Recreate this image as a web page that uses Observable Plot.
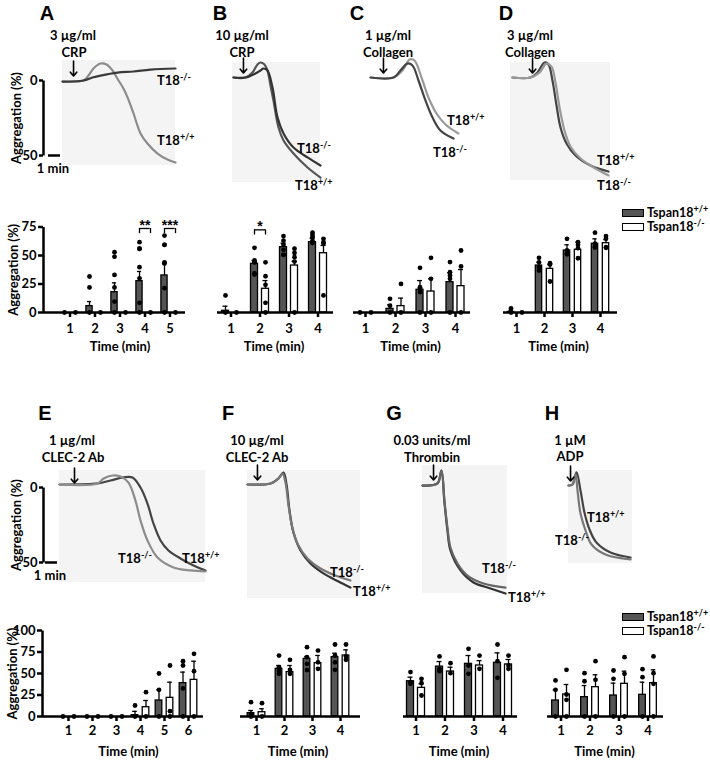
<!DOCTYPE html>
<html><head><meta charset="utf-8">
<script src="https://cdn.jsdelivr.net/npm/d3@7"></script>
<script src="https://cdn.jsdelivr.net/npm/@observablehq/plot@0.6"></script>
<style>
body{margin:0;background:#fff;}
#fig{position:relative;width:710px;height:760px;overflow:hidden;font-family:Lato,"Open Sans",sans-serif;font-weight:bold;color:#000;}
.t{position:absolute;white-space:nowrap;font-size:13px;line-height:1;}
.c{transform:translate(-50%,-50%);}
.l{transform:translate(0,-50%);}
.lg{font-size:12.5px;}
.letter{font-size:20px;font-family:"Liberation Sans",Arial,sans-serif;}
.bg{position:absolute;background:#f4f4f4;}
.p{position:absolute;}
.p svg{overflow:visible;}
.p svg g[aria-label^="x-axis"], .p svg g[aria-label^="y-axis"]{stroke-width:2.5px;}
sup{font-size:9px;line-height:0;vertical-align:baseline;position:relative;top:-5px;}
.box{position:absolute;width:20px;height:6px;border:1.3px solid #000;}
</style></head>
<body><div id="fig"></div>
<script>
// ---------- Aggregation traces (time in min, aggregation in %) ----------
const trA_wt = {t:[0,1.75,2.17,2.58,3.17,3.67,4.17,4.67,5.08,5.42,5.92,6.5,7.08,7.92,8.75,9.42], a:[0.7,0,-3.3,-8,-11.3,-10.7,-6.7,0,5.3,11.3,22,35.3,42,48.7,52.7,54.7]};
const trA_ko = {t:[0,1.75,2.5,3.17,4.58,5.92,7.33,9.42], a:[0.7,0,-2,-3.3,-5.3,-6,-7.3,-8]};
const trB_wt = {t:[0,1,1.58,2,2.25,2.58,2.83,3.08,3.33,3.75,4.17,5,6.17,7.25], a:[0,0,-3.3,-8.7,-10,-8.7,-4.7,5.3,15.3,33.3,42,50.7,60,66.7]};
const trB_ko = {t:[0,1,1.83,2.25,2.5,2.83,3.25,3.67,4.17,5,6.17,7.25], a:[0,0,-2.7,-4.7,-6,-4.7,6.7,26.7,37.3,46.7,53.3,58.7]};
const trC_wt = {t:[0,1.92,2.67,3.25,3.67,4.25,4.83,5.5,6.25,7.33], a:[0,0,-4.7,-12,-11.3,0,13.3,24,31.3,37.3]};
const trC_ko = {t:[0,1.92,2.5,3.08,3.5,4,4.58,5.17,5.83,6.92], a:[0,0,-4.7,-9.3,-8,2,15.3,26.7,35.3,40.7]};
const trD_wt = {t:[0,1.5,2.08,2.67,3,3.33,3.67,4,4.5,5.25,6.5,8], a:[0,0,-3.3,-10,-8.7,2,18.7,33.3,44,52,58.7,62.7]};
const trD_ko = {t:[0,1.5,2.25,2.83,3.25,3.58,3.92,4.33,4.83,5.67,6.92,8], a:[0,0,-3.3,-9.3,-7.3,3.3,20,35.3,46,54,60.7,65.3]};
const trE_wt = {t:[0,3.17,4.25,5.33,6.08,6.75,7.33,7.83,8.42,9.08,10.08,11.17,12.17], a:[-2,-2.7,-4.7,-6.7,-6.7,0,10.7,24,35.3,42,47.3,52,55.3]};
const trE_ko = {t:[0,3.17,3.67,4.42,5.08,5.75,6.33,6.75,7.33,8.17,9.5,10.92,12.17], a:[-2,-2.7,-6,-8,-7.3,-3.3,8.7,22,35.3,46.7,53.3,55.3,56]};
const trF_wt = {t:[0,1.92,2.58,3,3.25,3.5,3.83,4.42,5.25,6.33,7.58,8.58], a:[0,-0.7,-4,-8,0,17.3,32,44,52.7,59.3,64.7,68.7]};
const trF_ko = {t:[0,1.92,2.58,2.92,3.17,3.42,3.75,4.25,5,6.08,7.33,8.58], a:[0,-0.7,-4,-7.3,-1.3,14,29.3,40.7,49.3,56,60.7,64]};
const trG_wt = {t:[0,1.25,1.58,1.83,2.08,2.33,3.17,4.25,5.67,6.92], a:[0.7,-0.7,-9.3,12,30.7,44,57.3,65.3,69.3,72.7]};
const trG_ko = {t:[0,1.25,1.58,1.83,2.08,2.33,2.92,3.75,5.08,6.92], a:[0.7,-0.7,-9.3,10.7,28.7,42,52.7,60.7,66,68.7]};
const trH_wt = {t:[0,0.33,0.67,1,1.33,1.75,2.33,3.5,5.17], a:[0,-0.7,-8.7,3.3,18,29.3,38,44.7,48]};
const trH_ko = {t:[0,0.33,0.58,0.75,1,1.42,1.92,3.08,5.17], a:[0,-0.7,-7.3,3.3,18.7,30,39.3,46,49.3]};
const additionTimes = {A:0.92, B:0.83, C:1.08, D:1.67, E:1.25, F:0.83, G:0.92, H:0.17};
const scaleBarMin = [-1.17, -0.17];

// ---------- Bar charts: mean, mean+SEM, individual values ----------
const times5 = [1,2,3,4,5];
const times4 = [1,2,3,4];
const times6 = [1,2,3,4,5,6];

const A_wtMean = [0,5.6,17.8,27.5,32.5];
const A_wtErr  = [0,9.6,26,36,42.7];
const A_koMean = [0,0,0,0,0];
const A_koErr  = [0,0,0,0,0];
const A_wtDots = [[0],[31.6,22,0],[52.9,49,33,22,9.6,0],[61.7,55.9,55.9,39.8,30,8.5,0],[67.5,59.4,59.4,44,43,21.3,0]];
const A_koDots = [[0],[0],[0],[0],[0]];
const A_sig = [{t:4, y:73.7, label:"**"},{t:5, y:73.7, label:"***"}];

const B_wtMean = [1.5,42.7,57.3,61.7];
const B_wtErr  = [5.5,45.6,60.8,65.2];
const B_koMean = [0,20.8,41.2,52];
const B_koErr  = [0,28,45,58.8];
const B_wtDots = [[15,0],[56.7,45.6,44,44,34.5,33.3],[67,63,59.4,55,50.6,50.6],[70,68,66,63,61]];
const B_koDots = [[0],[44,31.8,24.3,8.5,0],[55.9,52.3,48.5,44.7,0],[64.6,61.7,60.3,15]];
const B_sig = [{t:2, y:72.5, label:"*"}];

const C_wtMean = [0,3.2,19.9,26.6];
const C_wtErr  = [0,6.7,28,34.8];
const C_koMean = [0,5.6,18.4,23.1];
const C_koErr  = [0,12.6,29.5,37.7];
const C_wtDots = [[0],[12,6,0],[39.2,22.2,21,18,0],[44.2,35.4,32.5,29.5,0]];
const C_koDots = [[0],[25.1,0],[48,29.5,0],[54.4,40.4,0]];

const D_wtMean = [0.5,41.2,54.4,60.3];
const D_wtErr  = [1.5,44.2,59.4,64.6];
const D_koMean = [0,38.3,55,60.8];
const D_koErr  = [0,42,61.7,64];
const D_wtDots = [[3.5,0],[48,44,39.8,36.8],[64.6,54.4,52,51],[70,60.3,58,57]];
const D_koDots = [[0],[43.3,42,27.2],[61.7,59.4,56.4,47.6],[67,64.6,57.3,56.7]];

const E_wtMean = [0,0,0,1.5,18.6,38.8];
const E_wtErr  = [0,0,0,6,31,51.6];
const E_koMean = [0,0,0,10.8,21.7,42.6];
const E_koErr  = [0,0,0,18.6,39.9,64.3];
const E_wtDots = [[0],[0],[0],[12.8,0],[50,31,0],[64.3,59.3,32.6,0]];
const E_koDots = [[0],[0],[0],[28.3,0],[59.3,6.2,0],[72.9,52.7,0]];

const F_wtMean = [3.9,55.4,67,69];
const F_wtErr  = [7,59.3,69.8,73.6];
const F_koMean = [5,51.6,62,70.9];
const F_koErr  = [9,59.3,71,77.5];
const F_wtDots = [[16.6,3,0],[70.9,57.3,53.5,49.6],[80.6,69,61.3,54],[83.7,70.9,63,54.3]];
const F_koDots = [[15.5,0],[65.9,54.3,49.6],[76.7,63,55.4],[83.7,69.8,65.9]];

const G_wtMean = [41,58,61.2,62.4];
const G_wtErr  = [45.7,63.9,70.9,74];
const G_koMean = [33.3,52.3,59.3,60.5];
const G_koErr  = [38,57.3,65,66.3];
const G_wtDots = [[51.6,40,38],[69.8,55.4,52.7],[78.7,59.3,49.6],[83.7,64.3,45]];
const G_koDots = [[43.8,38.8,24.4],[62,50.4],[70.9,55.4],[70.9,59.3,55.4]];

const H_wtMean = [18.6,22.5,24.4,25.2];
const H_wtErr  = [31,36,38.8,39.9];
const H_koMean = [25.6,34.1,38,38.8];
const H_koErr  = [37.2,48.5,52.7,54.3];
const H_wtDots = [[41.9,31,0],[50.4,41,0],[53.5,43.8,0],[55,45.7,0]];
const H_koDots = [[54.3,25.6,19.4,0],[64.3,42.6,0],[69,49.6,0],[69.8,50.4,38,0]];

const yTicksTop = [0,25,50,75];
const yTicksBottom = [0,25,50,75,100];

// ---------- layout helpers ----------
const fig = document.getElementById("fig");
const FONT = "Lato, 'Open Sans', sans-serif";
const baseStyle = {background:"transparent", overflow:"visible", fontFamily:FONT, fontSize:"13px", fontWeight:"bold", color:"black"};
function txt(x, y, content, cls){
  const d = document.createElement("div");
  d.className = "t " + cls; d.style.left = x + "px"; d.style.top = y + "px"; d.innerHTML = content;
  fig.appendChild(d);
}
function bg(l, t, r, b){
  const d = document.createElement("div"); d.className = "bg";
  Object.assign(d.style, {left:l+"px", top:t+"px", width:(r-l)+"px", height:(b-t)+"px"});
  fig.appendChild(d);
}
function place(svg, L, T){
  const d = document.createElement("div"); d.className = "p";
  d.style.left = L + "px"; d.style.top = T + "px"; d.appendChild(svg); fig.appendChild(d);
}
// left side of the plot frame only (axis line)
function leftLine(fw, fh){
  return Plot.frame({fill:"none", stroke:"black", strokeWidth:2.5, strokeDasharray:`0 ${2*fw + fh} ${fh + 2}`});
}

function tracePanel(p){
  const [L,T,W,H] = p.box, [x0,y0] = p.origin;
  const data = [["+/+", p.wt], ["-/-", p.ko]].flatMap(([g,s]) => s.t.map((t,i) => ({g, t, a:s.a[i]})));
  const hasAxis = p.axisAt != null;
  const mL = hasAxis ? p.axisAt - L : 0;
  const marks = [
    Plot.line(data, {x:"t", y:"a", z:"g", stroke:"g", strokeWidth:2.2, curve:"catmull-rom"}),
    Plot.arrow([p.addition], {x1:d=>d, x2:d=>d, y1:-13, y2:-3, stroke:"black", strokeWidth:1.6, headLength:6, headAngle:80})
  ];
  if (hasAxis) marks.push(
    leftLine(W - mL, 75),
    Plot.ruleY([50], {x1:scaleBarMin[0], x2:scaleBarMin[1], strokeWidth:2.5}),
    Plot.text(["1 min"], {x:-0.8, y:50, dy:13, fill:"black"}),
    Plot.text(["Aggregation (%)"], {frameAnchor:"left", rotate:-90, textAnchor:"middle", lineAnchor:"middle", dx:-27, fill:"black"})
  );
  const svg = Plot.plot({
    width:W, height:H,
    marginLeft:mL, marginRight:0,
    marginTop: y0 - T, marginBottom: H - (y0 - T + 75),
    x:{domain:[0,1], range:[x0-L, x0-L+12], axis:null},
    y:{domain:[0,50], range:[y0-T, y0-T+75], axis: hasAxis ? "left" : null, ticks:[0,50], tickSize:4, tickPadding:2, label:null},
    color:{domain:["+/+","-/-"], range:p.colors},
    style: baseStyle,
    marks
  });
  place(svg, L, T);
}

const OFF = 5.5, BAR_W = 7;
function barPanel(p){
  const [L,T,W,H] = p.box;
  const n = p.times.length;
  const step = (p.range[1] - p.range[0]) / n;
  const inset = (step - BAR_W) / 2, capInset = (step - 5) / 2, brInset = (step - 2*OFF) / 2;
  const groups = [
    {mean:p.wtMean, err:p.wtErr, dots:p.wtDots, dx:-OFF, fill:"#555"},
    {mean:p.koMean, err:p.koErr, dots:p.koDots, dx:OFF, fill:"#fff"}
  ];
  const marks = [], dotMarks = [];
  const mL = p.base[0] - L, mR = L + W - p.base[1];
  if (p.yAxis) marks.push(leftLine(W - mL - mR, p.y0 - p.yTop));
  for (const G of groups){
    const rows = p.times.map((t,i) => ({t, m:G.mean[i], e:G.err[i]}));
    const eb = rows.filter(r => r.e > r.m);
    const pts = p.times.flatMap((t,i) => G.dots[i].map(v => ({t, v})));
    marks.push(
      Plot.ruleX(eb, {x:"t", y1:"m", y2:"e", dx:G.dx, stroke:"black", strokeWidth:1.3}),
      Plot.tickY(eb, {x:"t", y:"e", dx:G.dx, insetLeft:capInset, insetRight:capInset, stroke:"black", strokeWidth:1.3}),
      Plot.barY(rows, {x:"t", y:"m", dx:G.dx, insetLeft:inset, insetRight:inset, fill:G.fill, stroke:"black", strokeWidth:1.3})
    );
    dotMarks.push(Plot.dot(pts, {x:"t", y:"v", dx:G.dx, r:2.4, fill:"black", stroke:"none"}));
  }
  marks.push(...dotMarks, Plot.ruleY([0], {stroke:"black", strokeWidth:2.5}));
  if (p.sig) marks.push(
    Plot.tickY(p.sig, {x:"t", y:"y", insetLeft:brInset, insetRight:brInset, stroke:"black", strokeWidth:1.3}),
    Plot.ruleX(p.sig, {x:"t", y1:"y", y2:d => d.y - 4.5, dx:-OFF, stroke:"black", strokeWidth:1.3}),
    Plot.ruleX(p.sig, {x:"t", y1:"y", y2:d => d.y - 4.5, dx:OFF, stroke:"black", strokeWidth:1.3}),
    Plot.text(p.sig, {x:"t", y:"y", text:"label", dy:-3, fontSize:14, fill:"#000", fontFamily:"'Liberation Sans', Arial, sans-serif"})
  );
  const frameCenter = (mL + (W - mR)) / 2, rangeCenter = (p.range[0] + p.range[1]) / 2 - L;
  marks.push(Plot.text(["Time (min)"], {frameAnchor:"bottom", lineAnchor:"middle", dx:rangeCenter - frameCenter, dy:p.timeDy, fill:"black"}));
  if (p.yAxis) marks.push(Plot.text(["Aggregation (%)"], {frameAnchor:"left", rotate:-90, textAnchor:"middle", lineAnchor:"middle", dx:-30, fill:"black"}));
  const svg = Plot.plot({
    width:W, height:H,
    marginLeft:mL, marginRight:mR, marginTop:p.yTop - T, marginBottom:T + H - p.y0,
    x:{type:"band", domain:p.times, range:[p.range[0]-L, p.range[1]-L], padding:0, axis:"bottom", tickSize:5, tickPadding:p.tickPad, label:null},
    y:{domain:[0,p.yMax], axis: p.yAxis ? "left" : null, ticks:p.yTicks, tickSize:5, tickPadding:2, label:null},
    style: baseStyle,
    marks
  });
  place(svg, L, T);
}

// ---------- backgrounds of scanned traces ----------
bg(62,60,175,165); bg(232,62,320,182); bg(510,62,610,180);
bg(59,470,205,582); bg(247,470,360,598); bg(422,465,507,593); bg(568,470,632,563);

// ---------- trace panels ----------
tracePanel({box:[0,55,200,125], origin:[62,80], axisAt:43, wt:trA_wt, ko:trA_ko, addition:additionTimes.A, colors:["#8c8c8c","#3a3a3a"]});
tracePanel({box:[205,55,140,140], origin:[233,77], wt:trB_wt, ko:trB_ko, addition:additionTimes.B, colors:["#555","#333"]});
tracePanel({box:[345,55,145,110], origin:[370,77], wt:trC_wt, ko:trC_ko, addition:additionTimes.C, colors:["#9a9a9a","#444"]});
tracePanel({box:[490,55,135,135], origin:[512,77], wt:trD_wt, ko:trD_ko, addition:additionTimes.D, colors:["#444","#999"]});
tracePanel({box:[0,460,215,135], origin:[59,487], axisAt:43, wt:trE_wt, ko:trE_ko, addition:additionTimes.E, colors:["#444","#8c8c8c"]});
tracePanel({box:[225,460,150,145], origin:[247,484], wt:trF_wt, ko:trF_ko, addition:additionTimes.F, colors:["#333","#777"]});
tracePanel({box:[400,460,130,145], origin:[422,484], wt:trG_wt, ko:trG_ko, addition:additionTimes.G, colors:["#333","#666"]});
tracePanel({box:[540,460,110,110], origin:[568,485], wt:trH_wt, ko:trH_ko, addition:additionTimes.H, colors:["#444","#777"]});

// ---------- bar panels ----------
const topCommon = {y0:312, yTop:226.5, yMax:75, yTicks:yTicksTop, tickPad:6.5, timeDy:34};
const botCommon = {y0:716, yTop:630, yMax:100, yTicks:yTicksBottom, tickPad:4, timeDy:35};
barPanel({...topCommon, box:[0,200,195,160], times:times5, range:[55,184], base:[43,185], yAxis:true,
  wtMean:A_wtMean, wtErr:A_wtErr, koMean:A_koMean, koErr:A_koErr, wtDots:A_wtDots, koDots:A_koDots, sig:A_sig});
barPanel({...topCommon, box:[205,200,140,160], times:times4, range:[215.5,331.5], base:[217,333],
  wtMean:B_wtMean, wtErr:B_wtErr, koMean:B_koMean, koErr:B_koErr, wtDots:B_wtDots, koDots:B_koDots, sig:B_sig});
barPanel({...topCommon, box:[345,200,135,160], times:times4, range:[350,470], base:[353,470],
  wtMean:C_wtMean, wtErr:C_wtErr, koMean:C_koMean, koErr:C_koErr, wtDots:C_wtDots, koDots:C_koDots});
barPanel({...topCommon, box:[490,200,135,160], times:times4, range:[500.7,615.3], base:[503,617],
  wtMean:D_wtMean, wtErr:D_wtErr, koMean:D_koMean, koErr:D_koErr, wtDots:D_wtDots, koDots:D_koDots});
barPanel({...botCommon, box:[0,605,215,155], times:times6, range:[54.8,201], base:[42,203], yAxis:true,
  wtMean:E_wtMean, wtErr:E_wtErr, koMean:E_koMean, koErr:E_koErr, wtDots:E_wtDots, koDots:E_koDots});
barPanel({...botCommon, box:[225,605,145,155], times:times4, range:[240.8,354.2], base:[240,360],
  wtMean:F_wtMean, wtErr:F_wtErr, koMean:F_koMean, koErr:F_koErr, wtDots:F_wtDots, koDots:F_koDots});
barPanel({...botCommon, box:[385,605,145,155], times:times4, range:[400.5,516.5], base:[403,517],
  wtMean:G_wtMean, wtErr:G_wtErr, koMean:G_koMean, koErr:G_koErr, wtDots:G_wtDots, koDots:G_koDots});
barPanel({...botCommon, box:[535,605,135,155], times:times4, range:[545.3,662.7], base:[547,663],
  wtMean:H_wtMean, wtErr:H_wtErr, koMean:H_koMean, koErr:H_koErr, wtDots:H_wtDots, koDots:H_koDots});

// ---------- text ----------
const WT = "T18<sup>+/+</sup>", KO = "T18<sup>-/-</sup>";
[["A",47,13],["B",220,13],["C",357,13],["D",506,13],["E",45,413],["F",228,413],["G",394,413],["H",552,413]]
  .forEach(([s,x,y]) => txt(x, y, s, "c letter"));
[["3 µg/ml",73,35],["CRP",74,52],["10 µg/ml",242,35],["CRP",242,52],["1 µg/ml",388,35],["Collagen",388,52],
 ["3 µg/ml",530,35],["Collagen",530,52],["1 µg/ml",72,440],["CLEC-2 Ab",73,457],["10 µg/ml",257,440],["CLEC-2 Ab",257,457],
 ["0.03 units/ml",432,440],["Thrombin",432,457],["1 µM",570,440],["ADP",570,456]].forEach(([s,x,y]) => txt(x, y, s, "c"));
[[KO,157,80],[WT,157,140],[KO,297,148],[WT,295,185],[WT,447,120],[KO,433,152],[WT,597,160],[KO,597,185],
 [KO,118,558],[WT,182,558],[KO,330,572],[WT,353,591],[KO,482,568],[WT,508,597],[WT,587,517],[KO,555,540]]
  .forEach(([s,x,y]) => txt(x, y, s, "l"));

// ---------- legends ----------
function legend(top){
  const b1 = document.createElement("div"); b1.className = "box";
  Object.assign(b1.style, {left:"622px", top:top+"px", background:"#555"}); fig.appendChild(b1);
  const b2 = document.createElement("div"); b2.className = "box";
  Object.assign(b2.style, {left:"622px", top:(top+14)+"px", background:"#fff"}); fig.appendChild(b2);
  txt(647, top+3.5, "Tspan18<sup>+/+</sup>", "l lg");
  txt(647, top+18, "Tspan18<sup>-/-</sup>", "l lg");
}
legend(209);
legend(613);
</script>
</body></html>
